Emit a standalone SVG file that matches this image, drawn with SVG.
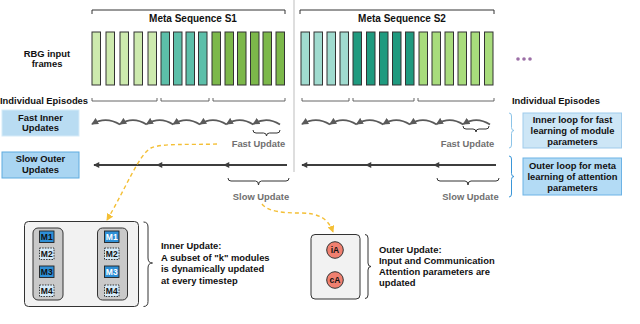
<svg xmlns="http://www.w3.org/2000/svg" width="640" height="324" viewBox="0 0 640 324">
<style>
text{font-family:"Liberation Sans",Arial,sans-serif;font-weight:bold;fill:#111}
.t{font-size:9.4px}
.h{font-size:10px}
.c{text-anchor:middle}
.g{fill:#707070}
.fr{stroke:#333;stroke-width:1}
.a{fill:#cdeaae}.b{fill:#5cbfa9}.cg{fill:#7cb84a}
.d{fill:#a0dbcf}.e{fill:#1f9a7f}.f{fill:#a8dc7c}
.br{fill:none;stroke:#333;stroke-width:1}
.ep{fill:none;stroke:#555;stroke-width:0.9}
.arc{fill:none;stroke:#5a5a5a;stroke-width:1.7;marker-end:url(#ah)}
.sl{fill:none;stroke:#3d3d3d;stroke-width:2;marker-end:url(#sh)}
.yd{fill:none;stroke:#f4bf35;stroke-width:1.4;stroke-dasharray:4 3;marker-end:url(#yh)}
.mod{stroke:#222;stroke-width:0.9}
.mb{fill:#2e8fd6}.md{fill:#d5eaf8;stroke-dasharray:1.5 1.2}
.mt{font-size:8.5px;text-anchor:middle}
</style>
<defs>
<marker id="ah" viewBox="0 0 8 8" refX="7" refY="4" markerWidth="7.5" markerHeight="7" markerUnits="userSpaceOnUse" orient="auto"><path d="M0,0 L8,4 L0,8 z" fill="#5a5a5a"/></marker>
<marker id="sh" viewBox="0 0 8 8" refX="7" refY="4" markerWidth="7" markerHeight="6" markerUnits="userSpaceOnUse" orient="auto"><path d="M0,0 L8,4 L0,8 z" fill="#3d3d3d"/></marker>
<marker id="yh" viewBox="0 0 8 8" refX="7" refY="4" markerWidth="7" markerHeight="7" markerUnits="userSpaceOnUse" orient="auto"><path d="M0,0 L8,4 L0,8 z" fill="#f4bf35"/></marker>
<marker id="kh" viewBox="0 0 8 8" refX="7" refY="4" markerWidth="6" markerHeight="6" markerUnits="userSpaceOnUse" orient="auto"><path d="M0,0 L8,4 L0,8 z" fill="#111"/></marker>
</defs>

<line x1="294" y1="0" x2="294" y2="172" stroke="#bdbdbd" stroke-width="1"/>

<g id="seq1">
<path class="br" d="M92,14 V10 H285 V14"/>
<text class="h c" x="193" y="22">Meta Sequence S1</text>
<rect class="fr a" x="92" y="32" width="8.5" height="53"/>
<rect class="fr a" x="106" y="32" width="8.5" height="53"/>
<rect class="fr a" x="120" y="32" width="8.5" height="53"/>
<rect class="fr a" x="134" y="32" width="8.5" height="53"/>
<rect class="fr a" x="148" y="32" width="8.5" height="53"/>
<rect class="fr b" x="161" y="32" width="8.5" height="53"/>
<rect class="fr b" x="173.5" y="32" width="8.5" height="53"/>
<rect class="fr b" x="186" y="32" width="8.5" height="53"/>
<rect class="fr b" x="198.5" y="32" width="8.5" height="53"/>
<rect class="fr cg" x="212" y="32" width="8.5" height="53"/>
<rect class="fr cg" x="225" y="32" width="8.5" height="53"/>
<rect class="fr cg" x="237.5" y="32" width="8.5" height="53"/>
<rect class="fr cg" x="250.5" y="32" width="8.5" height="53"/>
<rect class="fr cg" x="263" y="32" width="8.5" height="53"/>
<rect class="fr cg" x="276" y="32" width="8.5" height="53"/>
<path class="ep" d="M92,98 V101 H157 V98 M161,98 V101 H209 V98 M213,98 V101 H285 V98"/>
</g>

<g id="seq2">
<path class="br" d="M300,14 V10 H494 V14"/>
<text class="h c" x="402" y="22">Meta Sequence S2</text>
<rect class="fr d" x="301" y="32" width="8.5" height="53"/>
<rect class="fr d" x="314" y="32" width="8.5" height="53"/>
<rect class="fr d" x="327" y="32" width="8.5" height="53"/>
<rect class="fr d" x="340" y="32" width="8.5" height="53"/>
<rect class="fr e" x="353" y="32" width="8.5" height="53"/>
<rect class="fr e" x="366.5" y="32" width="8.5" height="53"/>
<rect class="fr e" x="379.5" y="32" width="8.5" height="53"/>
<rect class="fr e" x="392.5" y="32" width="8.5" height="53"/>
<rect class="fr e" x="405.5" y="32" width="8.5" height="53"/>
<rect class="fr f" x="419" y="32" width="8.5" height="53"/>
<rect class="fr f" x="432" y="32" width="8.5" height="53"/>
<rect class="fr f" x="445" y="32" width="8.5" height="53"/>
<rect class="fr f" x="458" y="32" width="8.5" height="53"/>
<rect class="fr f" x="471" y="32" width="8.5" height="53"/>
<rect class="fr f" x="484.5" y="32" width="8.5" height="53"/>
<path class="ep" d="M302,98 V101 H349 V98 M353,98 V101 H414 V98 M418,98 V101 H494 V98"/>
</g>

<g id="dots" fill="#9c6fa6">
<circle cx="518" cy="59" r="1.8"/><circle cx="524" cy="59" r="1.8"/><circle cx="530" cy="59" r="1.8"/>
</g>

<g id="labels">
<text class="t c" x="47" y="56.5">RBG input</text>
<text class="t c" x="47" y="67">frames</text>
<text class="t" x="0" y="103.5">Individual Episodes</text>
<text class="t" x="512" y="103.5">Individual Episodes</text>
</g>

<g id="fastInner">
<rect x="2" y="110" width="77" height="26" fill="#b9dcf2" stroke="#d6ebf8" stroke-width="1"/>
<text class="t c" x="40.5" y="120.5">Fast Inner</text>
<text class="t c" x="40.5" y="131">Updates</text>
</g>
<g id="slowOuter">
<rect x="2" y="152" width="77" height="26" fill="#a9d5f2" stroke="#5fabdf" stroke-width="1"/>
<text class="t c" x="40.5" y="161.5">Slow Outer</text>
<text class="t c" x="40.5" y="172.5">Updates</text>
</g>

<g id="innerLoop">
<rect x="523" y="113" width="98.5" height="35" fill="#cde6f6" stroke="#9fcbeb" stroke-width="1"/>
<text class="t c" x="572.5" y="122.5">Inner loop for fast</text>
<text class="t c" x="572.5" y="133.5">learning of module</text>
<text class="t c" x="572.5" y="145">parameters</text>
</g>
<g id="outerLoop">
<rect x="523" y="158" width="98.5" height="37" fill="#b3dbf5" stroke="#6cb3e6" stroke-width="1"/>
<text class="t c" x="572.5" y="169">Outer loop for meta</text>
<text class="t c" x="572.5" y="179.5">learning of attention</text>
<text class="t c" x="572.5" y="190.5">parameters</text>
</g>

<g id="connectors">
<path class="arc" d="M280,124.5 Q266.7,116 253.3,124"/>
<path class="arc" d="M253.3,124.5 Q240,116 226.7,124"/>
<path class="arc" d="M226.7,124.5 Q213.3,116 200,124"/>
<path class="arc" d="M200,124.5 Q186.7,116 173.3,124"/>
<path class="arc" d="M173.3,124.5 Q160,116 146.7,124"/>
<path class="arc" d="M146.7,124.5 Q133.3,116 120,124"/>
<path class="arc" d="M120,124.5 Q106,116 92,124"/>
<path class="arc" d="M490,124.5 Q476.7,116 463.3,124"/>
<path class="arc" d="M463.3,124.5 Q450,116 436.7,124"/>
<path class="arc" d="M436.7,124.5 Q423.3,116 410,124"/>
<path class="arc" d="M410,124.5 Q396.7,116 383.3,124"/>
<path class="arc" d="M383.3,124.5 Q370,116 356.7,124"/>
<path class="arc" d="M356.7,124.5 Q343.3,116 330,124"/>
<path class="arc" d="M330,124.5 Q316.5,116 302,124"/>
<path class="sl" d="M287,165 H224"/>
<path class="sl" d="M224,165 H157"/>
<path class="sl" d="M157,165 H94"/>
<path class="sl" d="M496,165 H434"/>
<path class="sl" d="M434,165 H366"/>
<path class="sl" d="M366,165 H302"/>
<path class="yd" d="M217,144 C190,145 162,143 151,148 C139,154 125,190 107,220"/>
<path class="yd" d="M262,204 C268,212 285,213 300,213 C318,213 328,218 333,232"/>
<path fill="none" stroke="#111" stroke-width="1" marker-end="url(#kh)" d="M54,236.5 H104"/>
<path fill="none" stroke="#111" stroke-width="1" marker-end="url(#kh)" d="M54,271.5 H104"/>
</g>

<g id="braces">
<path class="br" d="M253,130 Q253,133 256,133 H263.5 Q266.5,133 266.5,136 Q266.5,133 269.5,133 H277 Q280,133 280,130"/>
<path class="br" d="M463,126 Q463,129 466,129 H473 Q476,129 476,132 Q476,129 479,129 H486 Q489,129 489,126"/>
<text class="t c g" x="258.5" y="147">Fast Update</text>
<text class="t c g" x="467.5" y="147">Fast Update</text>
<path class="br" d="M228,178 Q228,181 231,181 H255.5 Q258.5,181 258.5,185 Q258.5,181 261.5,181 H286 Q289,181 289,178"/>
<path class="br" d="M437,178 Q437,181 440,181 H465 Q468,181 468,185 Q468,181 471,181 H496 Q499,181 499,178"/>
<text class="t c g" x="261" y="199.5">Slow Update</text>
<text class="t c g" x="470.5" y="199.5">Slow Update</text>
<path fill="none" stroke="#8cc4e8" stroke-width="1" d="M509,113 Q511.5,113 511.5,116 V127.5 Q511.5,130.5 514,130.5 Q511.5,130.5 511.5,133.5 V145 Q511.5,148 509,148"/>
<path fill="none" stroke="#3a96d8" stroke-width="1" d="M509,156 Q511.5,156 511.5,159 V173.5 Q511.5,176.5 514,176.5 Q511.5,176.5 511.5,179.5 V194 Q511.5,197 509,197"/>
</g>

<g id="innerUpdate">
<rect x="24.5" y="221.5" width="114" height="85" rx="4" fill="#f2f2f2" stroke="#333" stroke-width="1"/>
<rect x="33" y="228" width="30" height="72" rx="5" fill="#c9c9c9" stroke="#333" stroke-width="1"/>
<rect x="97.5" y="228" width="30" height="72" rx="5" fill="#c9c9c9" stroke="#333" stroke-width="1"/>
<rect class="mod mb" x="39.5" y="231" width="14.5" height="11.5"/>
<text class="mt" x="46.75" y="240">M1</text>
<rect class="mod md" x="39.5" y="248" width="14.5" height="11.5"/>
<text class="mt" x="46.75" y="257">M2</text>
<rect class="mod mb" x="39.5" y="266" width="14.5" height="11.5"/>
<text class="mt" x="46.75" y="275">M3</text>
<rect class="mod md" x="39.5" y="285" width="14.5" height="11.5"/>
<text class="mt" x="46.75" y="294">M4</text>
<rect class="mod mb" x="104.5" y="231" width="14.5" height="11.5"/>
<text class="mt" x="111.75" y="240" style="fill:#fff">M1</text>
<rect class="mod md" x="104.5" y="248" width="14.5" height="11.5"/>
<text class="mt" x="111.75" y="257">M2</text>
<rect class="mod mb" x="104.5" y="266" width="14.5" height="11.5"/>
<text class="mt" x="111.75" y="275" style="fill:#fff">M3</text>
<rect class="mod md" x="104.5" y="285" width="14.5" height="11.5"/>
<text class="mt" x="111.75" y="294">M4</text>
<path class="br" d="M143.5,222 Q148,222 148,227 V258 Q148,263 152.5,263 Q148,263 148,268 V301.5 Q148,306.5 143.5,306.5"/>
<text class="t" x="161" y="249">Inner Update:</text>
<text class="t" x="161" y="261">A subset of "k" modules</text>
<text class="t" x="161" y="272">is dynamically updated</text>
<text class="t" x="161" y="283.5">at every timestep</text>
</g>

<g id="outerUpdate">
<rect x="311" y="234.5" width="49" height="64.5" rx="4" fill="#f2f2f2" stroke="#333" stroke-width="1"/>
<circle cx="335" cy="250" r="8.3" fill="#f08070" stroke="#333" stroke-width="1"/>
<text class="mt" x="335" y="253">iA</text>
<circle cx="335" cy="280" r="8.3" fill="#f08070" stroke="#333" stroke-width="1"/>
<text class="mt" x="335" y="283">cA</text>
<path class="br" d="M365,234.5 Q368,234.5 368,238 V263 Q368,266.5 371,266.5 Q368,266.5 368,270 V295 Q368,298.5 365,298.5"/>
<text class="t" x="379" y="252.5">Outer Update:</text>
<text class="t" x="379" y="264">Input and Communication</text>
<text class="t" x="379" y="275">Attention parameters are</text>
<text class="t" x="379" y="285.5">updated</text>
</g>
</svg>
